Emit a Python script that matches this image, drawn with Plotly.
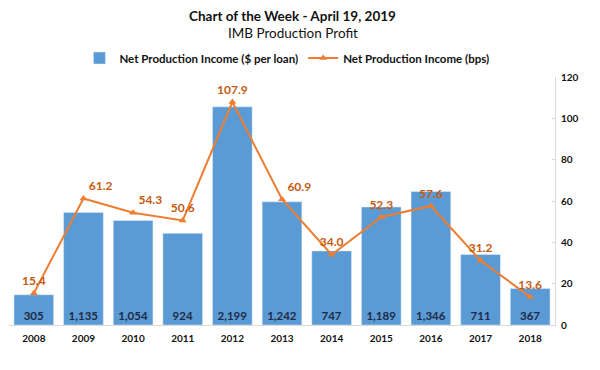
import plotly.graph_objects as go

years = ["2008", "2009", "2010", "2011", "2012", "2013", "2014", "2015", "2016", "2017", "2018"]
income_per_loan = [305, 1135, 1054, 924, 2199, 1242, 747, 1189, 1346, 711, 367]
income_bps = [15.4, 61.2, 54.3, 50.6, 107.9, 60.9, 34.0, 52.3, 57.6, 31.2, 13.6]
bps_label_pos = ["top center", "top right", "top right", "top center", "top center", "top right",
                 "top center", "top center", "top center", "top center", "top center"]

FONT = "Lato"
# page body has an 8px default margin, so size the figure to fit the viewport
W, H = 592, 362
T, B, L, R = 69, 45, 1, 45
PH = H - T - B

fig = go.Figure()
fig.add_trace(go.Bar(
    x=years, y=income_per_loan,
    name="Net Production Income ($ per loan)",
    marker=dict(color="#5B9BD5"),
    text=[f"{v:,}" for v in income_per_loan],
    textposition="inside", insidetextanchor="start",
    textfont=dict(family=FONT, size=11.5, color="#1F2A44", weight="bold"),
    textangle=0, cliponaxis=False,
))
fig.add_trace(go.Scatter(
    x=years, y=income_bps, yaxis="y2",
    name="Net Production Income (bps)",
    mode="lines+markers+text",
    line=dict(color="#ED7D31", width=2),
    marker=dict(symbol="triangle-up", size=7, color="#ED7D31"),
    text=[f"{v:.1f}" for v in income_bps],
    textposition=bps_label_pos,
    textfont=dict(family=FONT, size=12, color="#C55A11", weight="bold"),
    cliponaxis=False,
))

fig.update_layout(
    width=W, height=H, autosize=False,
    margin=dict(l=L, r=R, t=T, b=B, autoexpand=False),
    paper_bgcolor="white", plot_bgcolor="white",
    font=dict(family=FONT, color="#222"),
    legend=dict(orientation="h", x=0.509, xanchor="center", y=1 + (77 - 58) / PH, yanchor="middle",
                font=dict(family=FONT, size=11.5, color="#111", weight="bold"),
                bgcolor="rgba(0,0,0,0)"),
    bargap=0.2,
    showlegend=True,
    xaxis=dict(range=[-0.5, len(years) - 0.5], autorange=False,
               showline=True, linecolor="#D9D9D9", showgrid=False, ticks="", automargin=False,
               ticklabelstandoff=4,
               tickfont=dict(family=FONT, size=10, color="#111", weight="bold")),
    yaxis=dict(range=[0, 2500], visible=False, showgrid=False, automargin=False),
    yaxis2=dict(range=[0, 120], overlaying="y", side="right", showgrid=False, automargin=False,
                showline=True, linecolor="#D9D9D9", ticks="inside", ticklen=3, tickcolor="#D9D9D9",
                ticklabelstandoff=3,
                dtick=20, tickfont=dict(family=FONT, size=10, color="#111", weight="bold"),
                zeroline=False),
)
fig.add_annotation(text="<b>Chart of the Week - April 19, 2019</b>", xref="paper", yref="paper",
                   x=0.52, y=1 + (77 - 16) / PH, xanchor="center", yanchor="middle",
                   showarrow=False, font=dict(family=FONT, size=13.5, color="#111"))
fig.add_annotation(text="IMB Production Profit", xref="paper", yref="paper",
                   x=0.52, y=1 + (77 - 33) / PH, xanchor="center", yanchor="middle",
                   showarrow=False, font=dict(family=FONT, size=13.5, color="#111"))

fig.write_html("out.html")
